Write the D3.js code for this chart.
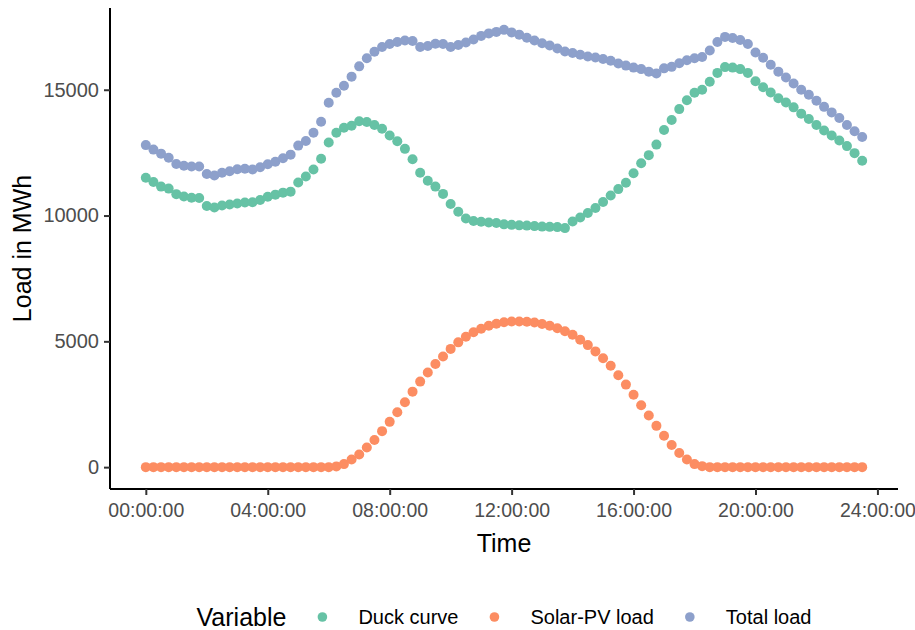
<!DOCTYPE html>
<html>
<head>
<meta charset="utf-8">
<script src="https://cdn.jsdelivr.net/npm/d3@7"></script>
<style>
  body { margin: 0; background: #fff; }
  svg { display: block; font-family: "Liberation Sans", Arial, sans-serif; }
</style>
</head>
<body>
<svg id="chart" width="915" height="630"></svg>
<script>
// time of day in hours, 15 minute steps from 00:00 to 23:30
const times = d3.range(0, 23.75, 0.25)

const duckCurve = [
  11500, 11330, 11150, 11070, 10850, 10760, 10710, 10700, 10380, 10320,
  10400, 10440, 10480, 10520, 10530, 10620, 10750, 10830, 10910, 10950,
  11310, 11550, 11830, 12260, 12900, 13290, 13490, 13570, 13750, 13720,
  13600, 13450, 13180, 12950, 12650, 12240, 11700, 11380, 11150, 10860,
  10460, 10150, 9880, 9780, 9750, 9720, 9700, 9650, 9630, 9610,
  9600, 9580, 9560, 9550, 9540, 9500, 9760, 9920, 10100, 10300,
  10540, 10800, 11050, 11300, 11680, 12080, 12400, 12820, 13400, 13800,
  14230, 14580, 14880, 15000, 15320, 15670, 15900, 15880, 15820, 15670,
  15340, 15100, 14890, 14660, 14490, 14300, 14050, 13840, 13600, 13380,
  13180, 12980, 12760, 12480, 12180
]

const solarLoad = [
  0, 0, 0, 0, 0, 0, 0, 0, 0, 0,
  0, 0, 0, 0, 0, 0, 0, 0, 0, 0,
  0, 0, 0, 0, 0, 30, 120, 300, 500, 780,
  1080, 1430, 1800, 2180, 2580, 3000, 3400, 3760, 4100, 4400,
  4700, 4960, 5180, 5360, 5500, 5620, 5700, 5760, 5790, 5790,
  5780, 5750, 5690, 5620, 5520, 5400, 5260, 5060, 4850, 4600,
  4330, 4030, 3650, 3280, 2880, 2460, 2050, 1640, 1250, 880,
  560, 300, 120, 40, 0, 0, 0, 0, 0, 0,
  0, 0, 0, 0, 0, 0, 0, 0, 0, 0,
  0, 0, 0, 0, 0
]

const totalLoad = [
  12800, 12620, 12460, 12300, 12050, 11980, 11950, 11950, 11650, 11590,
  11700, 11760, 11840, 11860, 11830, 11920, 12040, 12140, 12280, 12420,
  12780, 12960, 13290, 13730, 14480, 14880, 15160, 15520, 15930, 16250,
  16510, 16700, 16820, 16900, 16960, 16940, 16700, 16740, 16830, 16820,
  16700, 16780, 16880, 17000, 17140, 17240, 17300, 17380, 17280, 17190,
  17070, 16960, 16850, 16760, 16640, 16520, 16460, 16390, 16320, 16280,
  16220, 16150, 16040, 15960, 15880, 15820, 15720, 15650, 15850, 15910,
  16050, 16170, 16250, 16300, 16560, 16900, 17100, 17060, 16980, 16820,
  16480, 16270, 15990, 15720, 15490, 15250, 15000, 14800, 14560, 14320,
  14100, 13880, 13600, 13350, 13120
]

const seriesNames = ['Duck curve', 'Solar-PV load', 'Total load']
const seriesColors = ['#66c2a5', '#fc8d62', '#8da0cb']
const xTicks = [0, 4, 8, 12, 16, 20, 24]
const xTickLabels = ['00:00:00', '04:00:00', '08:00:00', '12:00:00', '16:00:00', '20:00:00', '24:00:00']
const yTicks = [0, 5000, 10000, 15000]

const series = [duckCurve, solarLoad, totalLoad].map((vals, k) => ({
  name: seriesNames[k],
  color: seriesColors[k],
  points: vals.map((v, i) => ({ t: times[i], v: v }))
}))

const margin = { top: 8, right: 17, bottom: 141, left: 110 }
const size = { width: 915, height: 630 }
const innerW = size.width - margin.left - margin.right
const innerH = size.height - margin.top - margin.bottom

const svg = d3.select('#chart')
const g = svg.append('g')
  .attr('transform', `translate(${margin.left}, ${margin.top})`)

// ggplot style 5% expansion on both scales
const expand = (lo, hi) => { const p = (hi - lo) * 0.05; return [lo - p, hi + p] }
const allVals = duckCurve.concat(solarLoad, totalLoad)

const x = d3.scaleLinear()
  .domain(expand(d3.min(times), d3.max(times)))
  .range([0, innerW])

const y = d3.scaleLinear()
  .domain(expand(d3.min(allVals), d3.max(allVals)))
  .range([innerH, 0])

const xAxis = d3.axisBottom(x)
  .tickValues(xTicks)
  .tickSize(6)
  .tickPadding(8)
  .tickFormat((d, i) => xTickLabels[i])

const yAxis = d3.axisLeft(y)
  .tickValues(yTicks)
  .tickSize(6)
  .tickPadding(5)
  .tickFormat(d3.format('d'))

const styleAxis = (sel, fontSize) => {
  sel.select('.domain').attr('stroke', '#000').attr('stroke-width', 2)
  sel.selectAll('.tick line').attr('stroke', '#333').attr('stroke-width', 2)
  sel.selectAll('.tick text')
    .attr('fill', '#4d4d4d')
    .style('font-size', fontSize)
  sel.attr('font-family', null)
}

g.append('g')
  .attr('class', 'axis axis--x')
  .attr('transform', `translate(0, ${innerH})`)
  .call(xAxis)
  .call(styleAxis, '19.5px')
  .call(a => a.select('.domain').attr('d', `M0,0H${innerW}`))

g.append('g')
  .attr('class', 'axis axis--y')
  .call(yAxis)
  .call(styleAxis, '20px')
  .call(a => a.select('.domain').attr('d', `M0,${innerH}V0`))

// points
series.forEach(s => {
  g.append('g')
    .attr('class', 'series')
    .selectAll('circle')
    .data(s.points)
    .enter().append('circle')
    .attr('cx', d => x(d.t))
    .attr('cy', d => y(d.v))
    .attr('r', 5)
    .attr('fill', s.color)
})

// axis titles
svg.append('text')
  .attr('x', margin.left + innerW / 2)
  .attr('y', 552)
  .attr('text-anchor', 'middle')
  .style('font-size', '25px')
  .text('Time')

svg.append('text')
  .attr('transform', `translate(31, ${margin.top + innerH / 2}) rotate(-90)`)
  .attr('text-anchor', 'middle')
  .style('font-size', '25px')
  .text('Load in MWh')

// legend, laid out from measured text widths and centred on the panel
const legend = svg.append('g').attr('class', 'legend')
const legY = 617
const title = legend.append('text')
  .attr('y', legY)
  .attr('dy', '0.35em')
  .style('font-size', '25px')
  .text('Variable')

let cursor = title.node().getComputedTextLength()
series.forEach(s => {
  const dotX = cursor + 36
  legend.append('circle')
    .attr('cx', dotX).attr('cy', legY).attr('r', 4.8).attr('fill', s.color)
  const label = legend.append('text')
    .attr('x', dotX + 36)
    .attr('y', legY)
    .attr('dy', '0.35em')
    .style('font-size', '20px')
    .text(s.name)
  cursor = dotX + 36 + label.node().getComputedTextLength()
})
legend.attr('transform', `translate(${margin.left + innerW / 2 - cursor / 2}, 0)`)
</script>
</body>
</html>
